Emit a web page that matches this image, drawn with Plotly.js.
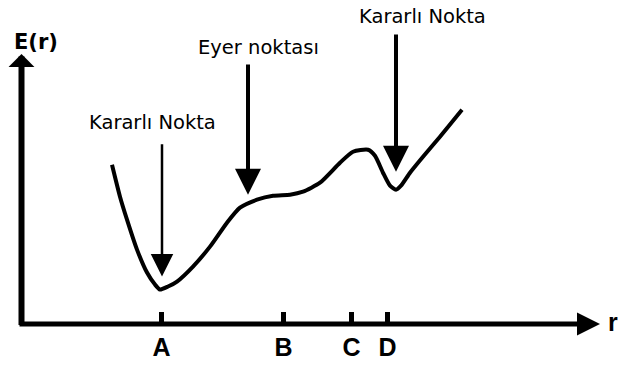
<!DOCTYPE html>
<html>
<head>
<meta charset="utf-8">
<script src="https://cdn.plot.ly/plotly-3.0.1.min.js"></script>
<style>
  html, body { margin: 0; padding: 0; background: #ffffff; }
  #chart { width: 619px; height: 368px; }
</style>
</head>
<body>
<div id="chart"></div>
<script>
// Potential energy curve E(r) along the reaction coordinate r
const rValues = [9.05, 9.85, 10.55, 11.55, 12.55, 13.35, 13.85, 14.65, 15.55, 17.15,
                 18.85, 20.55, 21.85, 23.55, 25.15, 26.85, 28.15, 29.85, 31.85, 33.15,
                 34.65, 35.35, 36.15, 36.85, 37.45, 37.95, 38.85, 40.15, 41.85, 44.05];
const eValues = [15.95, 12.75, 10.45, 7.45, 5.15, 3.95, 3.45, 3.75, 4.25, 5.75,
                 7.75, 10.15, 11.65, 12.45, 12.85, 12.95, 13.25, 14.15, 16.15, 17.25,
                 17.45, 16.85, 15.15, 13.85, 13.45, 13.85, 15.15, 16.75, 18.75, 21.45];

// Marked positions on the r axis
const tickPositions = [14.0, 26.2, 33.0, 36.6];
const tickLabels = ['A', 'B', 'C', 'D'];

// Labelled points: [label, text r, text E, arrow r, arrow tail E, arrow tip E]
const pointLabels = ['Kararlı Nokta', 'Eyer noktası', 'Kararlı Nokta'];
const labelR = [13.05, 23.65, 40.05];
const labelE = [20.2, 27.7, 30.8];
const arrowR = [14.05, 22.65, 37.45];
const arrowTailE = [18.15, 26.15, 29.15];
const arrowTipE = [4.75, 12.95, 15.25];
const arrowWidths = [2.5, 4, 4];
const arrowSizes = [1.8, 1.3, 1.3];

const xRange = [-2.15, 59.75];
const yRange = [0, 32.45];

const labelFont = { family: 'DejaVu Sans, Verdana, sans-serif', size: 19.5, color: '#000' };
const boldFont = { family: 'DejaVu Sans, sans-serif', size: 21, color: '#000', weight: 'bold' };
const tickFont = { family: 'Liberation Sans Narrow, Liberation Sans, Arial, sans-serif', size: 25, color: '#000', weight: 'bold' };

const annotations = [];

// r axis with arrow head
annotations.push({
  x: 57.85, y: 0, ax: -0.35, ay: 0,
  xref: 'x', yref: 'y', axref: 'x', ayref: 'y',
  text: '', font: { size: 1 }, showarrow: true,
  arrowhead: 2, arrowwidth: 5, arrowsize: 0.92, arrowcolor: '#000',
  standoff: 0, startstandoff: 0
});
// E axis with arrow head
annotations.push({
  x: 0, y: 27.05, ax: 0, ay: -0.25,
  xref: 'x', yref: 'y', axref: 'x', ayref: 'y',
  text: '', font: { size: 1 }, showarrow: true,
  arrowhead: 1, arrowwidth: 6, arrowsize: 0.72, arrowcolor: '#000',
  standoff: 0, startstandoff: 0
});

// Axis names
annotations.push({
  x: 1.4, y: 28.25, xref: 'x', yref: 'y', text: 'E(r)',
  showarrow: false, font: boldFont, xanchor: 'center', yanchor: 'middle'
});
annotations.push({
  x: 58.45, y: 0.2, xref: 'x', yref: 'y', text: 'r',
  showarrow: false, font: tickFont, xanchor: 'left', yanchor: 'middle'
});

// Point labels and their pointer arrows
pointLabels.forEach(function (label, i) {
  annotations.push({
    x: labelR[i], y: labelE[i], xref: 'x', yref: 'y', text: label,
    showarrow: false, font: labelFont, xanchor: 'center', yanchor: 'middle'
  });
  annotations.push({
    x: arrowR[i], y: arrowTipE[i], ax: arrowR[i], ay: arrowTailE[i],
    xref: 'x', yref: 'y', axref: 'x', ayref: 'y',
    text: '', font: { size: 1 }, showarrow: true,
    arrowhead: 2, arrowwidth: arrowWidths[i], arrowsize: arrowSizes[i], arrowcolor: '#000',
    standoff: 0, startstandoff: 0
  });
});

const curve = {
  x: rValues, y: eValues,
  type: 'scatter', mode: 'lines',
  line: { color: '#000', width: 4, shape: 'spline', smoothing: 0.6 },
  hoverinfo: 'skip', showlegend: false
};

const layout = {
  width: 619, height: 368,
  margin: { l: 0, r: 0, t: 0, b: 43.5, pad: 0 },
  paper_bgcolor: '#ffffff', plot_bgcolor: '#ffffff',
  showlegend: false,
  xaxis: {
    range: xRange, domain: [0, 1],
    showgrid: false, zeroline: false, showline: false,
    tickmode: 'array', tickvals: tickPositions, ticktext: tickLabels,
    ticks: 'inside', ticklen: 12, tickwidth: 5, tickcolor: '#000',
    tickfont: tickFont, ticklabelstandoff: 6, fixedrange: true
  },
  yaxis: {
    range: yRange,
    showgrid: false, zeroline: false, showline: false,
    showticklabels: false, ticks: '', fixedrange: true
  },
  annotations: annotations
};

Plotly.newPlot('chart', [curve], layout, { displayModeBar: false, staticPlot: true });
</script>
</body>
</html>
